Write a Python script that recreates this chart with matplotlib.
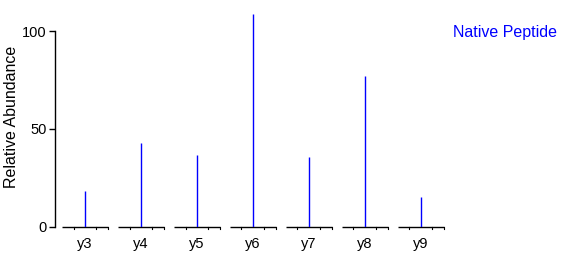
import matplotlib
matplotlib.use('Agg')
import matplotlib.pyplot as plt
import numpy as np

# Datos
ions = ['y3', 'y4', 'y5', 'y6', 'y7', 'y8', 'y9']
abundance = [18.4, 43.0, 36.8, 108.5, 35.8, 77.0, 15.3]
y_ticks = [0, 50, 100]
label_text = 'Native Peptide'

plt.rcParams['font.family'] = ['Liberation Sans', 'DejaVu Sans']

fig = plt.figure(figsize=(5.72, 2.62), dpi=100)
ax = fig.add_axes([55 / 572, 35 / 262, 390 / 572, 215.6 / 262])

x = np.arange(len(ions))
half = 0.41

# tramo base de cada ion con sus marcas pequenas
for xi in x:
    ax.plot([xi - half, xi + half], [0, 0], color='black', lw=1.0,
            solid_capstyle='butt', clip_on=False)
    for off in (-0.205, 0.205, 0.41):
        ax.plot([xi + off, xi + off], [0, -1.1], color='black', lw=0.8,
                clip_on=False)

ax.vlines(x, 0, abundance, color='#0000ff', lw=1.0)

ax.set_xlim(-0.536, 6.43)
ax.set_ylim(0, 110)
ax.set_yticks(y_ticks)
ax.set_xticks(x)
ax.set_xticklabels(ions, fontsize=10.5)
ax.tick_params(axis='x', length=0, pad=7)
ax.tick_params(axis='y', direction='out', length=4, width=1, pad=2, labelsize=10.5)

for side in ['top', 'right', 'bottom']:
    ax.spines[side].set_visible(False)
ax.spines['left'].set_bounds(0, 100)
ax.spines['left'].set_linewidth(1)

fig.text(12 / 572, 1 - 117 / 262, 'Relative Abundance', rotation=90,
         ha='center', va='center', fontsize=11.5)
fig.text(453 / 572, 1 - 33 / 262, label_text, color='#0000ff',
         ha='left', va='center', fontsize=11.5)

fig.savefig('out.png', dpi=100)
